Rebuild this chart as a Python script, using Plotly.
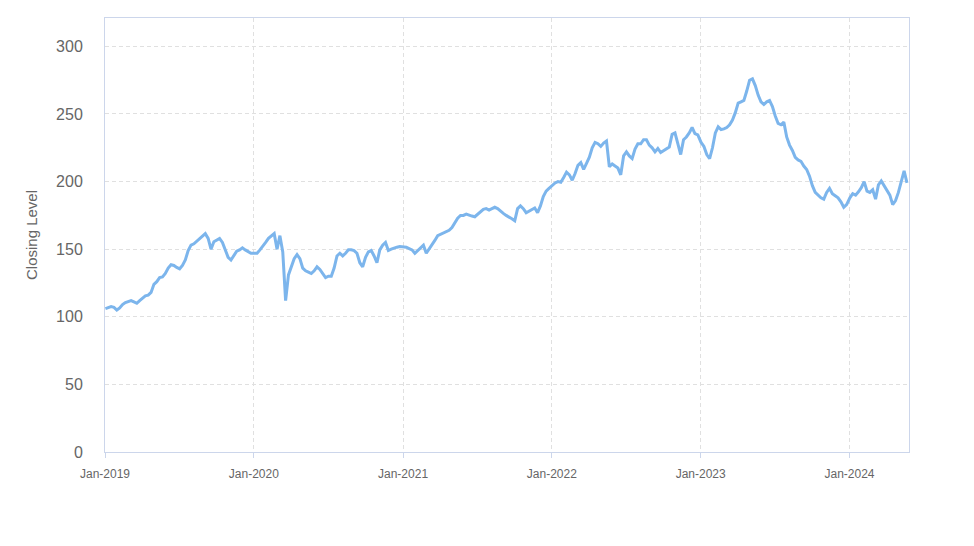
import pandas as pd
import plotly.graph_objects as go

# Weekly closing levels
values_2019 = [106, 107, 107.5, 107, 105, 106.5, 109, 110.5, 111, 112, 111, 110, 112, 114,
               115.5, 116, 118, 124, 126, 129, 129.5, 132, 136, 138.5, 138, 136.5, 135.5, 138,
               142, 149, 153, 154, 156, 158, 160, 161.5, 158, 150, 155.5, 157, 158, 155, 150,
               144, 142, 145, 148.5, 149.5, 151, 149.5, 148, 147]
values_2020 = [147, 147, 149.5, 152, 155, 158, 160, 161.5, 150, 160, 148, 112, 131, 137, 143,
               146, 143, 136, 134, 133, 132, 134, 137, 135, 132, 129, 130, 130, 136, 145, 147,
               145, 147, 149.5, 149.5, 149, 147, 140, 137, 144, 148, 149, 145, 140, 149.5, 153,
               155, 149, 150, 151, 151.5, 152]
values_2021 = [152, 151.5, 150.5, 149.5, 147, 149, 151, 153, 147, 150, 153, 156.5, 160, 161,
               161.5, 162.5, 164, 166, 170, 173, 175, 175, 176, 175, 174.5, 174, 176, 178, 179.5,
               180, 179, 180, 181, 180, 178, 176.5, 175, 174, 172.5, 171, 180, 182, 180, 177,
               178, 179, 180.5, 177, 182, 189, 193, 195, 197]
values_2022 = [197, 199, 200, 199.5, 203, 207, 205, 201, 206, 212, 214, 209, 213.5, 218, 225,
               229, 228, 226, 228.5, 230, 211, 213, 211.5, 210, 205, 219, 222, 219, 217, 224,
               228, 228, 231, 231, 227, 225, 222, 224.5, 221.5, 223, 224.5, 225.5, 235, 236,
               228, 220, 231, 233, 236, 240, 235.5, 234.5]
values_2023 = [229, 226, 220, 217, 225, 236, 240.5, 238.5, 239, 240, 242, 245.5, 251, 258, 259,
               260, 267, 275, 276, 271, 264, 259, 257, 259, 260, 255.5, 248.5, 243, 242, 244,
               233, 227, 223, 218, 216, 215, 211.5, 209, 204, 197, 192, 190, 188, 187, 192, 195,
               191, 189.5, 188, 185, 181, 183]
values_2024 = [188, 191, 190, 192.5, 195.5, 200, 193, 192, 194, 187, 197.5, 200.5, 197, 194.5,
               190, 183, 186, 192, 200, 208, 199]

year_series = {
    2019: values_2019,
    2020: values_2020,
    2021: values_2021,
    2022: values_2022,
    2023: values_2023,
    2024: values_2024,
}

x_tick_dates = ["2019-01-01", "2020-01-01", "2021-01-01", "2022-01-01", "2023-01-01", "2024-01-01"]
x_tick_labels = ["Jan-2019", "Jan-2020", "Jan-2021", "Jan-2022", "Jan-2023", "Jan-2024"]
y_tick_values = [0, 50, 100, 150, 200, 250, 300]

dates = []
values = []
for year, vals in year_series.items():
    d = pd.date_range(start=f"{year}-01-02", periods=len(vals), freq="7D")
    dates.extend(d)
    values.extend(vals)

fig = go.Figure()
fig.add_trace(go.Scatter(
    x=dates, y=values, mode="lines",
    line=dict(color="#7cb5ec", width=3),
    hoverinfo="x+y", showlegend=False,
))

axis_font = dict(family="Liberation Sans, Arial, sans-serif", color="#666666")

fig.update_layout(
    width=974, height=546,
    margin=dict(l=105, r=65, t=18, b=94),
    paper_bgcolor="white", plot_bgcolor="white",
    font=dict(family="Liberation Sans, Arial, sans-serif", color="#666666"),
    xaxis=dict(
        type="date",
        range=["2019-01-01", "2024-05-26"],
        tickvals=x_tick_dates, ticktext=x_tick_labels,
        tickfont=dict(size=12, **axis_font),
        showgrid=True, gridcolor="#e0e0e0", griddash="4px,3px", gridwidth=1,
        showline=True, linecolor="#ccd6eb", linewidth=1, mirror=True,
        ticks="outside", ticklen=5, tickcolor="#ccd6eb",
        ticklabelstandoff=6,
        zeroline=False,
    ),
    yaxis=dict(
        range=[0, 321],
        tickvals=y_tick_values,
        tickfont=dict(size=16, **axis_font),
        showgrid=True, gridcolor="#e0e0e0", griddash="4px,3px", gridwidth=1,
        showline=True, linecolor="#ccd6eb", linewidth=1, mirror=True,
        ticks="", ticklabelstandoff=18,
        zeroline=False,
        title=dict(text="Closing Level", font=dict(size=15, **axis_font), standoff=14),
    ),
)

fig.write_html("out.html")
